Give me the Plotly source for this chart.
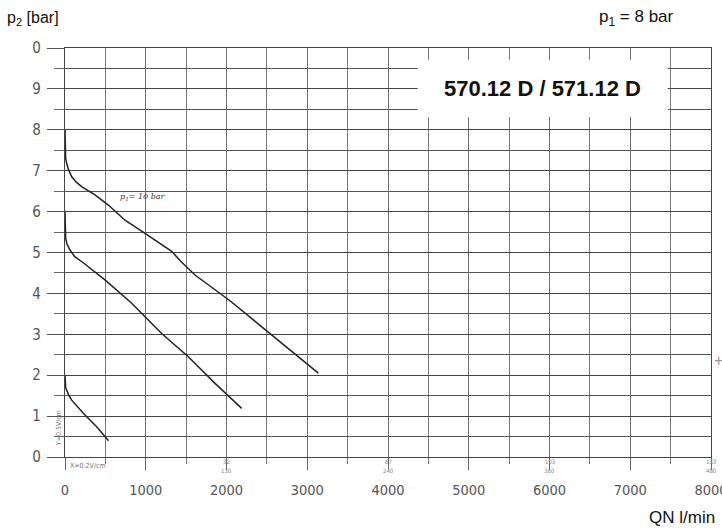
import plotly.graph_objects as go

# ---- data ----
q_p10 = [0, 0, 8, 20, 45, 83, 140, 206, 371, 537, 743, 991, 1115, 1238, 1321, 1430, 1548, 1610, 2043, 2539, 3137]
p_p10 = [8.0, 7.46, 7.30, 7.18, 7.02, 6.85, 6.72, 6.61, 6.41, 6.16, 5.79, 5.47, 5.31, 5.15, 5.03, 4.79, 4.55, 4.45, 3.82, 3.02, 2.05]

q_p8 = [0, 0, 8, 25, 62, 120, 206, 495, 826, 1197, 1527, 1858, 2188]
p_p8 = [6.0, 5.55, 5.35, 5.20, 5.06, 4.90, 4.78, 4.33, 3.76, 3.02, 2.45, 1.80, 1.19]

q_p4 = [0, 0, 8, 20, 45, 83, 227, 392, 540]
p_p4 = [2.0, 1.8, 1.70, 1.64, 1.52, 1.39, 1.07, 0.74, 0.40]

x_ticks = [0, 1000, 2000, 3000, 4000, 5000, 6000, 7000, 8000]
x_ticklabels = ["0", "1000", "2000", "3000", "4000", "5000", "6000", "7000", "8000"]
y_ticks = [0, 1, 2, 3, 4, 5, 6, 7, 8, 9, 10]
y_ticklabels = ["0", "1", "2", "3", "4", "5", "6", "7", "8", "9", "0"]

# tiny scale notes printed under the axis of the scanned chart
note_x = [2000, 4000, 6000, 8000]
note_top = ["32", "67", "103", "133"]
note_bottom = ["130", "240", "360", "480"]

NARROW = "Liberation Sans Narrow, DejaVu Sans Condensed, Arial Narrow, sans-serif"
SANS = "Liberation Sans, Arial, Helvetica, sans-serif"

fig = go.Figure()
for qx, py in [(q_p10, p_p10), (q_p8, p_p8), (q_p4, p_p4)]:
    fig.add_trace(go.Scatter(x=qx, y=py, mode="lines", line=dict(color="#222222", width=1.5),
                             hoverinfo="skip", showlegend=False))

fig.update_layout(
    width=722, height=531,
    margin=dict(l=65, r=11, t=48, b=74, autoexpand=False),
    paper_bgcolor="white", plot_bgcolor="white",
    showlegend=False,
    xaxis=dict(
        range=[0, 8000], tickvals=x_ticks, ticktext=x_ticklabels, automargin=False,
        showgrid=True, gridcolor="#6e6e6e", gridwidth=1,
        showline=True, linecolor="#444444", linewidth=1.2, mirror=True,
        ticks="outside", ticklen=12, tickcolor="#666666", tickwidth=1,
        ticklabelstandoff=7, ticklabeloverflow="allow",
        tickfont=dict(family=NARROW, size=14.5, color="#555555"),
        minor=dict(dtick=500, tick0=0, showgrid=True, gridcolor="#7a7a7a", gridwidth=1,
                   ticks="outside", ticklen=6, tickcolor="#777777"),
        zeroline=False, fixedrange=True,
    ),
    yaxis=dict(
        range=[0, 10], tickvals=y_ticks, ticktext=y_ticklabels, automargin=False,
        showgrid=True, gridcolor="#444444", gridwidth=1.3,
        showline=True, linecolor="#444444", linewidth=1.2, mirror=True,
        ticks="outside", ticklen=17, tickcolor="#555555", tickwidth=1.3,
        ticklabelstandoff=3, ticklabeloverflow="allow",
        tickfont=dict(family=NARROW, size=15, color="#555555"),
        minor=dict(dtick=0.5, tick0=0, showgrid=True, gridcolor="#555555", gridwidth=1.3,
                   ticks="outside", ticklen=10, tickcolor="#666666"),
        zeroline=False, fixedrange=True,
    ),
)

# white title box over the grid
fig.add_shape(type="rect", xref="paper", yref="paper", x0=0.546, x1=0.933, y0=0.831, y1=0.971,
              fillcolor="white", line=dict(width=0), layer="above")
fig.add_annotation(xref="paper", yref="paper", x=0.7395, y=0.901, xanchor="center", yanchor="middle",
                   text="<b>570.12 D / 571.12 D</b>",
                   showarrow=False, font=dict(family=SANS, size=22, color="#111111"))

# axis titles / headers
fig.add_annotation(xref="paper", yref="paper", x=-0.093, y=1.073, xanchor="left", yanchor="middle",
                   text="p<sub>2</sub> [bar]", showarrow=False, font=dict(family=SANS, size=16, color="#111111"))
fig.add_annotation(xref="paper", yref="paper", x=0.824, y=1.073, xanchor="left", yanchor="middle",
                   text="p<sub>1</sub> = 8 bar", showarrow=False, font=dict(family=SANS, size=17, color="#111111"))
fig.add_annotation(xref="paper", yref="paper", x=0.9545, y=-0.147, xanchor="center", yanchor="middle",
                   text="QN l/min", showarrow=False, font=dict(family=SANS, size=17, color="#111111"))

# curve label
fig.add_annotation(x=656, y=6.36, xanchor="left", yanchor="middle", text="<i>p<sub>1</sub>= 10 bar</i>",
                   showarrow=False, font=dict(family="DejaVu Serif, serif", size=8, color="#333333"))

# small scan notes
fig.add_annotation(xref="paper", yref="y", x=-0.008, y=0.7, xanchor="center", yanchor="middle",
                   text="Y=0.5V/cm", textangle=-90,
                   showarrow=False, font=dict(family=NARROW, size=7, color="#777777"))
fig.add_annotation(x=40, y=0, yshift=-3, xanchor="left", yanchor="top", text="X=0.2V/cm",
                   showarrow=False, font=dict(family=NARROW, size=7, color="#777777"))
for nx, nt, nb in zip(note_x, note_top, note_bottom):
    fig.add_annotation(x=nx, y=0, yshift=-4, xanchor="center", yanchor="middle", text=nt, showarrow=False,
                       font=dict(family=NARROW, size=6, color="#888888"))
    fig.add_annotation(x=nx, y=0, yshift=-13, xanchor="center", yanchor="middle", text=nb, showarrow=False,
                       font=dict(family=NARROW, size=6, color="#888888"))

fig.add_annotation(xref="paper", yref="paper", x=1.011, y=0.237, xanchor="center", yanchor="middle",
                   text="+", showarrow=False, font=dict(family=SANS, size=16, color="#999999"))

fig.write_html("out.html", config={"displayModeBar": False},
               post_script="document.body.style.margin='0px';")
